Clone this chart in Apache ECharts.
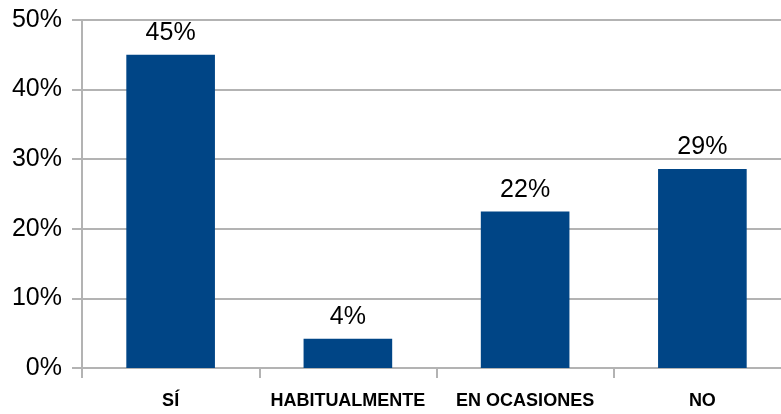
<!DOCTYPE html>
<html>
<head>
<meta charset="utf-8">
<script src="https://cdn.jsdelivr.net/npm/echarts@6/dist/echarts.min.js"></script>
<style>
  html, body { margin: 0; padding: 0; background: #fff; }
  #chart { width: 781px; height: 414px; }
</style>
</head>
<body>
<div id="chart"></div>
<script>
var categories = ['SÍ', 'HABITUALMENTE', 'EN OCASIONES', 'NO'];
var values = [45, 4.2, 22.5, 28.6];
var valueLabels = ['45%', '4%', '22%', '29%'];
var yTicks = [0, 10, 20, 30, 40, 50];

var chart = echarts.init(document.getElementById('chart'));
var option = {
    animation: false,
    grid: {
        left: 82,
        width: 709,
        top: 20,
        bottom: 46,
        outerBoundsMode: 'none'
    },
    xAxis: {
        type: 'category',
        data: categories,
        axisLine: { lineStyle: { color: '#b3b3b3', width: 2 } },
        axisTick: { show: true, interval: 0, length: 10, lineStyle: { color: '#b3b3b3', width: 2 } },
        axisLabel: {
            interval: 0,
            margin: 24,
            color: '#000',
            fontFamily: 'Liberation Sans',
            fontWeight: 'bold',
            fontSize: 18
        },
        splitLine: { show: false }
    },
    yAxis: {
        type: 'value',
        min: yTicks[0],
        max: yTicks[yTicks.length - 1],
        interval: 10,
        axisLine: { show: true, lineStyle: { color: '#b3b3b3', width: 2 } },
        axisTick: { show: true, length: 10, lineStyle: { color: '#b3b3b3', width: 2 } },
        axisLabel: {
            margin: 20,
            color: '#000',
            fontFamily: 'Liberation Sans',
            fontSize: 25,
            formatter: '{value}%'
        },
        splitLine: { lineStyle: { color: '#b3b3b3', width: 2 } }
    },
    series: [
        {
            type: 'bar',
            data: values,
            barWidth: '50%',
            itemStyle: { color: '#004586' },
            label: {
                show: true,
                position: 'top',
                distance: 9,
                color: '#000',
                fontFamily: 'Liberation Sans',
                fontSize: 25,
                formatter: function (p) { return valueLabels[p.dataIndex]; }
            }
        }
    ]
};
chart.setOption(option);
</script>
</body>
</html>
